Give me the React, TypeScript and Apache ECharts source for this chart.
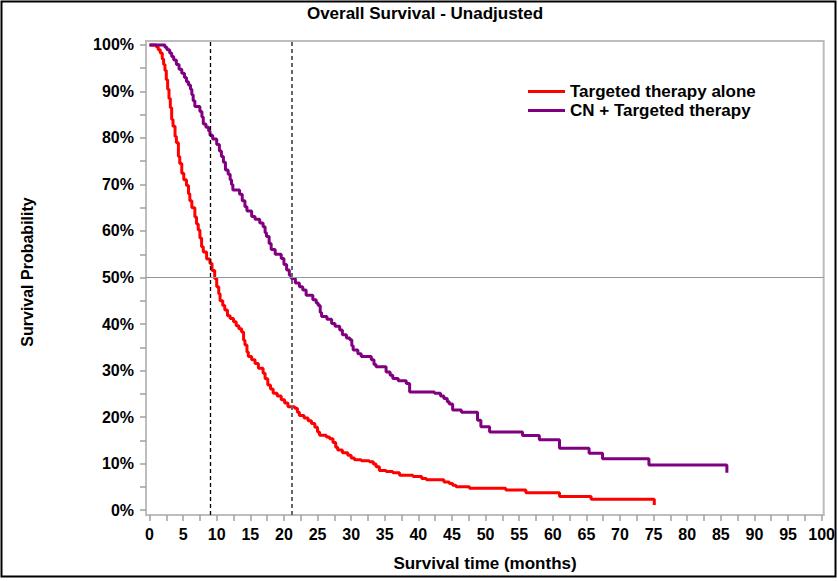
import React, { useEffect, useRef } from "react";
import * as echarts from "echarts";

// ---- Data ----
const seriesNames = ["Targeted therapy alone", "CN + Targeted therapy"];

const redTimes = [
  0, 1.0, 1.3, 1.6, 1.9, 2.1, 2.3, 2.5, 2.7, 2.9, 3.1, 3.3, 3.5, 3.8, 4.0, 4.3, 4.5, 4.8, 5.1, 5.5,
  5.8, 6.0, 6.3, 6.75, 7.0, 7.25, 7.5, 7.75, 8.0, 8.5, 9.0, 9.3, 9.7, 10.0, 10.3, 10.5, 10.9, 11.2,
  11.6, 12.0, 12.5, 12.9, 13.3, 13.7, 14.0, 14.2, 14.5, 14.7, 15.2, 15.7, 16.2, 16.9, 17.2, 17.6,
  18.0, 18.4, 19.0, 19.6, 20.1, 20.6, 21.6, 22.0, 22.3, 23.0, 23.6, 24.1, 24.6, 25.0, 25.3, 26.3,
  26.8, 27.3, 27.7, 28.0, 28.7, 29.5, 30.0, 30.5, 31.5, 32.7, 33.3, 33.7, 34.2, 35.2, 36.2, 37.2,
  39.2, 40.5, 41.2, 43.8, 44.6, 45.1, 45.6, 47.6, 53.0, 56.0, 61.0, 65.7, 75.1,
];
const redSurv = [
  100, 99.6, 99.0, 98.3, 97.0, 95.8, 94.5, 92.5, 90.5, 88.5, 86.5, 84.0, 82.5, 80.3, 79.0, 76.0,
  74.5, 72.4, 71.0, 69.8, 68.0, 66.5, 65.0, 63.0, 61.5, 60.2, 58.5, 56.6, 55.5, 54.0, 53.0, 51.5,
  49.8, 48.0, 46.5, 45.0, 44.0, 43.0, 41.8, 41.2, 40.5, 39.6, 39.0, 38.3, 36.5, 35.5, 34.0, 33.0,
  32.3, 31.5, 30.5, 29.4, 28.2, 26.9, 26.0, 25.1, 24.5, 23.7, 23.0, 22.2, 21.9, 21.0, 20.3, 19.8,
  19.2, 18.6, 17.8, 16.8, 16.1, 15.7, 15.3, 14.5, 13.5, 12.9, 12.3, 11.8, 11.2, 10.8, 10.6, 10.4,
  9.9, 9.3, 8.5, 8.3, 8.0, 7.5, 7.2, 6.8, 6.5, 6.0, 5.7, 5.3, 5.0, 4.7, 4.3, 3.7, 2.9, 2.3, 1.1,
];

const purpleTimes = [
  0, 2.05, 2.3, 2.6, 3.0, 3.3, 3.6, 4.0, 4.4, 4.8, 5.2, 5.5, 5.8, 6.1, 6.3, 6.5, 6.75, 7.5, 7.8,
  8.0, 8.4, 8.8, 9.0, 9.4, 10.0, 10.4, 10.7, 11.0, 11.3, 11.7, 12.0, 12.2, 12.4, 13.4, 13.8, 14.2,
  14.5, 15.2, 15.7, 16.4, 16.9, 17.2, 17.4, 17.8, 18.1, 18.7, 19.6, 20.0, 20.4, 20.8, 21.1, 21.7,
  22.3, 22.8, 23.3, 24.3, 24.8, 25.1, 25.4, 25.6, 26.4, 27.1, 27.6, 28.3, 28.7, 29.3, 29.8, 30.1,
  30.3, 31.0, 31.5, 33.0, 33.4, 33.7, 35.2, 35.8, 36.2, 37.0, 38.2, 38.7, 42.4, 43.3, 43.8, 44.3,
  44.6, 45.1, 46.4, 48.8, 49.3, 50.6, 55.5, 58.0, 61.0, 65.4, 67.4, 74.3, 85.9,
];
const purpleSurv = [
  100, 100, 99.5, 99.0, 98.3, 97.5, 96.8, 95.8, 94.8, 93.9, 93.0, 92.1, 91.4, 90.5, 89.3, 88.0,
  86.8, 85.7, 84.5, 83.0, 82.3, 81.5, 80.6, 79.8, 78.6, 77.2, 76.0, 74.8, 73.1, 72.2, 71.0, 70.0,
  68.8, 67.9, 66.5, 65.2, 64.3, 63.1, 62.5, 61.7, 60.9, 59.6, 58.8, 57.3, 56.0, 55.0, 54.1, 52.8,
  51.6, 50.5, 49.8, 48.8, 48.0, 47.3, 46.2, 45.2, 44.5, 44.0, 42.5, 41.6, 41.0, 40.1, 39.5, 38.7,
  37.7, 37.0, 36.6, 35.3, 34.4, 33.6, 33.0, 32.3, 31.3, 30.8, 29.7, 29.0, 28.3, 27.8, 27.2, 25.4,
  25.1, 24.5, 24.0, 23.3, 22.8, 21.5, 21.0, 19.3, 17.9, 16.8, 16.0, 15.1, 13.3, 12.2, 11.0, 9.7,
  8.0,
];

// Reference lines: median survival times and 50% level
const medianTimes = [9.0, 21.1];
const halfLevel = 50;

// Tick values / labels
const xTickValues = [
  0, 2.5, 5, 7.5, 10, 12.5, 15, 17.5, 20, 22.5, 25, 27.5, 30, 32.5, 35, 37.5, 40, 42.5, 45, 47.5,
  50, 52.5, 55, 57.5, 60, 62.5, 65, 67.5, 70, 72.5, 75, 77.5, 80, 82.5, 85, 87.5, 90, 92.5, 95,
  97.5, 100,
];
const xTickLabels = [0, 5, 10, 15, 20, 25, 30, 35, 40, 45, 50, 55, 60, 65, 70, 75, 80, 85, 90, 95, 100];
const yTickValues = [0, 5, 10, 15, 20, 25, 30, 35, 40, 45, 50, 55, 60, 65, 70, 75, 80, 85, 90, 95, 100];
const yTickLabels = [0, 10, 20, 30, 40, 50, 60, 70, 80, 90, 100];

const chartTitle = "Overall Survival - Unadjusted";
const xTitle = "Survival time (months)";
const yTitle = "Survival Probability";

const FONT = '"Liberation Sans", Arial, sans-serif';

export default function App() {
  const ref = useRef<HTMLDivElement>(null);

  useEffect(() => {
    if (!ref.current) return;
    const chart = echarts.init(ref.current, undefined, { renderer: "svg" });

    const red = redTimes.map((t, i) => [t, redSurv[i]]);
    const purple = purpleTimes.map((t, i) => [t, purpleSurv[i]]);
    const axisGray = "#bdbdbd";

    chart.setOption({
      animation: false,
      backgroundColor: "#ffffff",
      grid: {
        left: 146,
        right: 13,
        top: 41,
        bottom: 66,
        show: true,
        borderColor: axisGray,
        borderWidth: 2,
        containLabel: false,
      },
      legend: {
        orient: "vertical",
        left: 528,
        top: 83,
        padding: 0,
        icon: "rect",
        itemWidth: 37,
        itemHeight: 3,
        itemGap: 2,
        data: seriesNames,
        textStyle: {
          fontFamily: FONT,
          fontSize: 17,
          fontWeight: "bold",
          color: "#000",
          lineHeight: 17,
        },
      },
      xAxis: {
        type: "value",
        min: -0.52,
        max: 100.3,
        axisLine: { show: true, onZero: false, lineStyle: { color: axisGray, width: 2 } },
        axisTick: {
          show: true,
          inside: false,
          length: 6,
          customValues: xTickValues,
          lineStyle: { color: "#a0a0a0", width: 1.5 },
        },
        axisLabel: {
          customValues: xTickLabels,
          margin: 11,
          color: "#000",
          fontFamily: FONT,
          fontSize: 16,
          fontWeight: "bold",
        },
        splitLine: { show: false },
      },
      yAxis: {
        type: "value",
        min: -1.075,
        max: 100.86,
        axisLine: { show: true, onZero: false, lineStyle: { color: axisGray, width: 2 } },
        axisTick: {
          show: true,
          inside: false,
          length: 6,
          customValues: yTickValues,
          lineStyle: { color: "#a0a0a0", width: 1.5 },
        },
        axisLabel: {
          customValues: yTickLabels,
          margin: 12,
          formatter: "{value}%",
          color: "#000",
          fontFamily: FONT,
          fontSize: 16,
          fontWeight: "bold",
        },
        splitLine: { show: false },
      },
      series: [
        {
          name: seriesNames[0],
          type: "line",
          step: "end",
          data: red,
          showSymbol: false,
          symbol: "none",
          lineStyle: { color: "#ff0000", width: 3 },
          itemStyle: { color: "#ff0000" },
          z: 3,
          markLine: {
            silent: true,
            symbol: ["none", "none"],
            label: { show: false },
            animation: false,
            data: [
              { xAxis: medianTimes[0], lineStyle: { color: "#000000", width: 1.3, type: [4, 3] } },
              { xAxis: medianTimes[1], lineStyle: { color: "#666666", width: 2, type: [4, 3] } },
              { yAxis: halfLevel, lineStyle: { color: "#8e97a1", width: 1.2, type: "solid" } },
            ],
          },
        },
        {
          name: seriesNames[1],
          type: "line",
          step: "end",
          data: purple,
          showSymbol: false,
          symbol: "none",
          lineStyle: { color: "#800080", width: 3 },
          itemStyle: { color: "#800080" },
          z: 4,
        },
      ],
      graphic: [
        {
          type: "rect",
          shape: { x: 1.5, y: 1.5, width: 834, height: 575 },
          style: { fill: "none", stroke: "#000", lineWidth: 2 },
          silent: true,
          z: 100,
        },
        {
          type: "text",
          x: 425,
          y: 13,
          style: {
            text: chartTitle,
            align: "center",
            verticalAlign: "middle",
            fontFamily: FONT,
            fontSize: 17,
            fontWeight: "bold",
            fill: "#000",
          },
        },
        {
          type: "text",
          x: 485,
          y: 563,
          style: {
            text: xTitle,
            align: "center",
            verticalAlign: "middle",
            fontFamily: FONT,
            fontSize: 17,
            fontWeight: "bold",
            fill: "#000",
          },
        },
        {
          type: "text",
          x: 27,
          y: 272,
          rotation: Math.PI / 2,
          style: {
            text: yTitle,
            align: "center",
            verticalAlign: "middle",
            fontFamily: FONT,
            fontSize: 16,
            fontWeight: "bold",
            fill: "#000",
          },
        },
      ],
    });

    return () => chart.dispose();
  }, []);

  return (
    <div
      ref={ref}
      style={{ position: "fixed", left: 0, top: 0, width: 838, height: 581 }}
    />
  );
}
